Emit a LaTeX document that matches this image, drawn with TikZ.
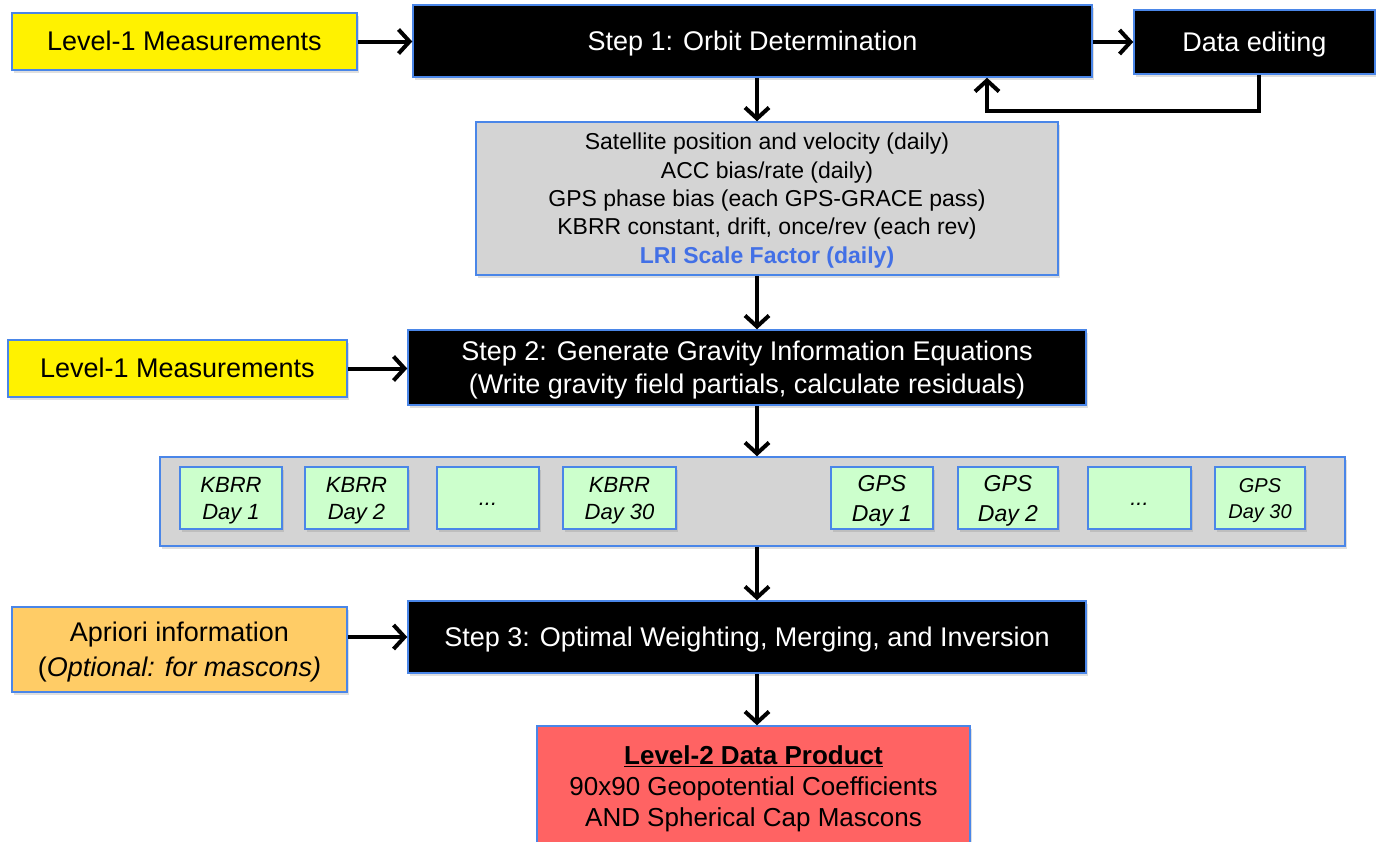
\documentclass[tikz,border=0pt]{standalone}
\usepackage{fontspec}
\setmainfont{Liberation Sans}
\usetikzlibrary{arrows.meta,shadows,calc}
\definecolor{edgeblue}{HTML}{4A86E8}
\definecolor{boxgray}{HTML}{D4D4D4}
\definecolor{boxgreen}{HTML}{CCFFCC}
\definecolor{boxorange}{HTML}{FFCC66}
\definecolor{boxred}{HTML}{FF6363}
\definecolor{lriblue}{HTML}{4270E6}
\newcommand{\fbig}{\fontsize{27}{33}\selectfont}
\newcommand{\fgray}{\fontsize{23}{28.3}\selectfont}
\newcommand{\fgreen}{\fontsize{22}{25}\selectfont}
\newcommand{\fred}{\fontsize{26}{31}\selectfont}
\newcommand{\capstrut}{\rule[-0.25em]{0pt}{1.2em}}
\begin{document}
\begin{tikzpicture}[x=1pt,y=-1pt,
  box/.style={draw=edgeblue,line width=1.5pt,inner sep=0pt,align=center,
    drop shadow={shadow xshift=2pt,shadow yshift=-3pt,opacity=0.25}},
  blk/.style={box,fill=black,text=white,font=\fbig},
  lvl/.style={box,fill=yellow,font=\fbig},
  grn/.style={box,fill=boxgreen,font=\fgreen\itshape,minimum height=62pt},
  arr/.style={line width=4pt,-{Straight Barb[length=11pt,width=24pt]}},
]
\useasboundingbox (0,0) rectangle (1376,841);
\coordinate (spine) at (757,0);

% row 1
\node[lvl,minimum width=345pt,minimum height=57pt] (l1a) at (184.5,41.5) {\capstrut Level-1 Measurements};
\node[blk,minimum width=679pt,minimum height=72pt] (s1) at (752.5,41) {\capstrut Step 1: Orbit Determination};
\node[blk,minimum width=241pt,minimum height=64pt] (de) at (1254.5,42) {\capstrut Data editing};

% estimated parameters
\node[box,fill=boxgray,font=\fgray,minimum width=582pt,minimum height=153pt] (est) at (767,198.5)
  {\capstrut Satellite position and velocity (daily)\\
   ACC bias/rate (daily)\\
   GPS phase bias (each GPS-GRACE pass)\\
   KBRR constant, drift, once/rev (each rev)\\
   \textcolor{lriblue}{\bfseries LRI Scale Factor (daily)}\capstrut};

% row 2
\node[lvl,minimum width=339pt,minimum height=57pt] (l1b) at (177.5,368.5) {\capstrut Level-1 Measurements};
\node[blk,minimum width=678pt,minimum height=75pt] (s2) at (747,367.5)
  {\capstrut Step 2: Generate Gravity Information Equations\\(Write gravity field partials, calculate residuals)\capstrut};

% band of daily equations
\node[box,fill=boxgray,minimum width=1185pt,minimum height=89pt] (band) at (752.5,501.5) {};
\node[grn,minimum width=102pt] (k1) at (231,498) {\capstrut KBRR\\Day 1\capstrut};
\node[grn,minimum width=103pt] (k2) at (356.5,498) {\capstrut KBRR\\Day 2\capstrut};
\node[grn,minimum width=102pt] (kd) at (488,498) {\capstrut ...};
\node[grn,minimum width=113pt] (k30) at (619.5,498) {\capstrut KBRR\\Day 30\capstrut};
\node[grn,minimum width=102pt,font=\fontsize{23}{30}\selectfont\itshape] (g1) at (882,498) {\capstrut GPS\\Day 1\capstrut};
\node[grn,minimum width=100pt,font=\fontsize{23}{30}\selectfont\itshape] (g2) at (1008,498) {\capstrut GPS\\Day 2\capstrut};
\node[grn,minimum width=103pt] (gd) at (1139.5,498) {\capstrut ...};
\node[grn,minimum width=90pt,font=\fontsize{20}{26}\selectfont\itshape] (g30) at (1260,498) {\capstrut GPS\\Day 30\capstrut};

% row 3
\node[box,fill=boxorange,font=\fontsize{27}{35}\selectfont,minimum width=335pt,minimum height=85pt] (apr) at (179.5,649.5)
  {\capstrut Apriori information\\({\itshape Optional: for mascons)}\capstrut};
\node[blk,minimum width=678pt,minimum height=72pt] (s3) at (747,637)
  {\capstrut Step 3: Optimal Weighting, Merging, and Inversion};

% product
\node[box,fill=boxred,font=\fred,minimum width=433pt,minimum height=120pt] (prod) at (753.5,786)
  {\capstrut\underline{\bfseries Level-2 Data Product}\\
   90x90 Geopotential Coefficients\\
   AND Spherical Cap Mascons\capstrut};

% connectors
\draw[arr] (l1a.east) -- (l1a.east -| s1.west);
\draw[arr] (s1.east |- de.west) -- (de.west);
\coordinate (fb) at (987,111);
\draw[arr] ([xshift=4.5pt]de.south) |- (fb) -- (fb |- s1.south);
\draw[arr] (s1.south -| spine) -- (est.north -| spine);
\draw[arr] (est.south -| spine) -- (s2.north -| spine);
\draw[arr] (l1b.east) -- (l1b.east -| s2.west);
\draw[arr] (s2.south -| spine) -- (band.north -| spine);
\draw[arr] (band.south -| spine) -- (s3.north -| spine);
\draw[arr] (apr.east |- s3.west) -- (s3.west);
\draw[arr] (s3.south -| spine) -- (prod.north -| spine);
\end{tikzpicture}
\end{document}
